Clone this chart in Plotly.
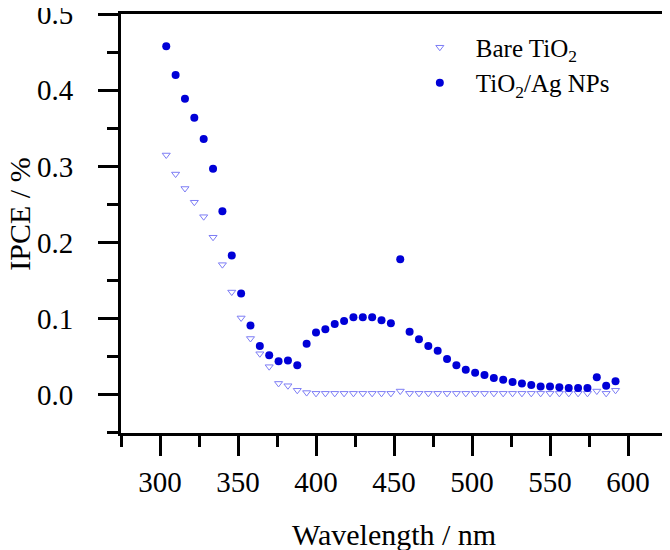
import plotly.graph_objects as go

wavelength = [304, 310, 316, 322, 328, 334, 340, 346, 352, 358, 364, 370, 376, 382, 388,
              394, 400, 406, 412, 418, 424, 430, 436, 442, 448, 454, 460, 466, 472, 478,
              484, 490, 496, 502, 508, 514, 520, 526, 532, 538, 544, 550, 556, 562, 568,
              574, 580, 586, 592]

ipce_bare = [0.315, 0.290, 0.271, 0.253, 0.234, 0.207, 0.171, 0.135, 0.101, 0.074,
             0.054, 0.037, 0.015, 0.012, 0.006, 0.003, 0.002, 0.002, 0.002, 0.002,
             0.002, 0.002, 0.002, 0.002, 0.002, 0.005, 0.002, 0.002, 0.002, 0.002,
             0.002, 0.002, 0.002, 0.002, 0.002, 0.002, 0.002, 0.002, 0.002, 0.002,
             0.002, 0.002, 0.002, 0.002, 0.002, 0.002, 0.005, 0.002, 0.006]

ipce_ag = [0.458, 0.420, 0.389, 0.364, 0.336, 0.297, 0.241, 0.183, 0.133, 0.091,
           0.064, 0.052, 0.044, 0.045, 0.039, 0.067, 0.082, 0.086, 0.093, 0.097,
           0.102, 0.102, 0.102, 0.098, 0.094, 0.178, 0.083, 0.073, 0.064, 0.058,
           0.047, 0.039, 0.033, 0.029, 0.026, 0.022, 0.020, 0.017, 0.015, 0.013,
           0.011, 0.011, 0.010, 0.009, 0.009, 0.009, 0.023, 0.012, 0.018]

x_ticks = [300, 350, 400, 450, 500, 550, 600]
y_ticks = [0.0, 0.1, 0.2, 0.3, 0.4, 0.5]
y_tick_labels = ["0.0", "0.1", "0.2", "0.3", "0.4", "0.5"]

FONT = "Liberation Serif, Times New Roman, serif"

fig = go.Figure()
fig.add_trace(go.Scatter(
    x=wavelength, y=ipce_bare, mode="markers", name="Bare TiO<sub>2</sub>",
    marker=dict(symbol="triangle-down-open", size=7, color="rgb(125,125,245)",
                line=dict(width=1, color="rgb(125,125,245)")),
))
fig.add_trace(go.Scatter(
    x=wavelength, y=ipce_ag, mode="markers", name="TiO<sub>2</sub>/Ag NPs",
    marker=dict(symbol="circle", size=8, color="rgb(0,0,215)"),
))

axis_common = dict(
    showline=True, linewidth=3, linecolor="black", mirror=True,
    ticks="outside", ticklen=20, tickwidth=3, tickcolor="black",
    showgrid=False, zeroline=False, automargin=False,
    tickfont=dict(family=FONT, size=29, color="black"),
    ticklabeloverflow="allow",
)

fig.update_xaxes(
    range=[275, 625], tickmode="array", tickvals=x_ticks,
    minor=dict(ticks="outside", ticklen=11, tickwidth=3, tickcolor="black", dtick=25, tick0=275),
    ticklabelstandoff=1,
    **axis_common,
)
fig.update_yaxes(
    range=[-0.0501, 0.5002], tickmode="array", tickvals=y_ticks, ticktext=y_tick_labels,
    minor=dict(ticks="outside", ticklen=11, tickwidth=3, tickcolor="black", dtick=0.05, tick0=0),
    ticklabelstandoff=19,
    **axis_common,
)

# page body has an 8px default margin, so the figure is sized to fit the window
fig.update_layout(
    width=662, height=542,
    margin=dict(l=113, r=3, t=6, b=117),
    paper_bgcolor="white", plot_bgcolor="white",
    showlegend=True,
    legend=dict(
        x=0.518, y=0.975, xanchor="left", yanchor="top",
        bgcolor="rgba(0,0,0,0)", borderwidth=0,
        font=dict(family=FONT, size=25, color="black"),
        itemwidth=62, tracegroupgap=0,
    ),
    annotations=[
        dict(text="Wavelength / nm", xref="paper", yref="paper", x=0.5, y=0,
             xanchor="center", yanchor="middle", yshift=-101, showarrow=False,
             font=dict(family=FONT, size=30, color="black")),
        dict(text="IPCE / %", xref="paper", yref="paper", x=0, y=0.521,
             xanchor="center", yanchor="middle", xshift=-101, textangle=-90,
             showarrow=False, font=dict(family=FONT, size=30, color="black")),
    ],
)

fig.write_html("out.html")
